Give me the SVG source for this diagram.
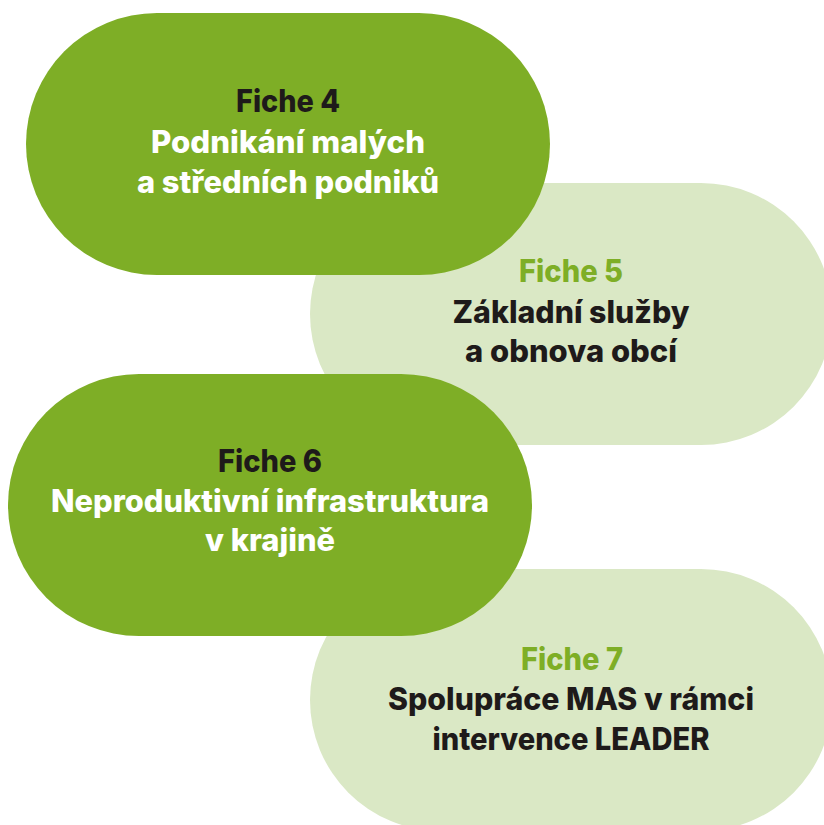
<svg xmlns="http://www.w3.org/2000/svg" width="824" height="825" viewBox="0 0 824 825">
<style>
.dark{fill:#7eae26}
.light{fill:#dae8c5}
text{font-family:Inter,"Noto Sans","Liberation Sans",sans-serif;font-weight:800;font-size:31px;text-anchor:middle}
.w{fill:#ffffff}
.k{fill:#1e1a1a}
.g{fill:#7eae26}
</style>
<rect width="824" height="825" fill="#ffffff"/>
<g id="fiche7">
<rect class="light" x="310" y="569" width="522" height="262" rx="131"/>
<text class="g" x="572" y="670" textLength="102" lengthAdjust="spacingAndGlyphs">Fiche 7</text>
<text class="k" x="571" y="710" textLength="366" lengthAdjust="spacingAndGlyphs">Spolupráce MAS v rámci</text>
<text class="k" x="571" y="750" textLength="277" lengthAdjust="spacingAndGlyphs">intervence LEADER</text>
</g>
<g id="fiche5">
<rect class="light" x="310" y="183" width="522" height="262" rx="131"/>
<text class="g" x="571" y="282" textLength="104" lengthAdjust="spacingAndGlyphs">Fiche 5</text>
<text class="k" x="571" y="323" textLength="237" lengthAdjust="spacingAndGlyphs">Základní služby</text>
<text class="k" x="571" y="362" textLength="212" lengthAdjust="spacingAndGlyphs">a obnova obcí</text>
</g>
<g id="fiche6">
<rect class="dark" x="8" y="374" width="524" height="262" rx="131"/>
<text class="k" x="270" y="472" textLength="104" lengthAdjust="spacingAndGlyphs">Fiche 6</text>
<text class="w" x="270" y="512" textLength="438" lengthAdjust="spacingAndGlyphs">Neproduktivní infrastruktura</text>
<text class="w" x="270" y="551" textLength="130" lengthAdjust="spacingAndGlyphs">v krajině</text>
</g>
<g id="fiche4">
<rect class="dark" x="26" y="13" width="524" height="262" rx="131"/>
<text class="k" x="288" y="112" textLength="104" lengthAdjust="spacingAndGlyphs">Fiche 4</text>
<text class="w" x="288" y="153" textLength="274" lengthAdjust="spacingAndGlyphs">Podnikání malých</text>
<text class="w" x="288" y="193" textLength="302" lengthAdjust="spacingAndGlyphs">a středních podniků</text>
</g>
<g id="connectors"/>
</svg>
